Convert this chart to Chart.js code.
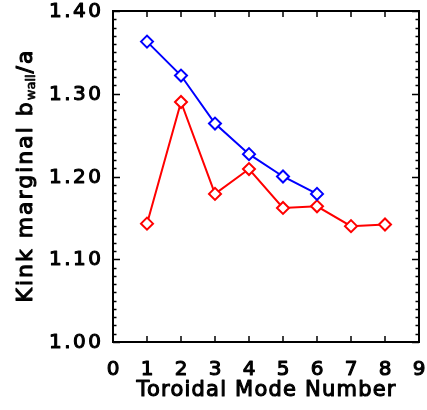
<!DOCTYPE html>
<html><head><meta charset="utf-8">
<script src="https://cdn.jsdelivr.net/npm/chart.js@4/dist/chart.umd.min.js"></script>
<style>html,body{margin:0;padding:0;background:#fff;}</style>
</head><body>
<canvas id="c" width="427" height="410" style="display:block"></canvas>
<script>
const modeNumbers = [1, 2, 3, 4, 5, 6, 7, 8];
const blueValues = [1.363, 1.322, 1.264, 1.227, 1.200, 1.179];
const redValues = [1.143, 1.290, 1.179, 1.209, 1.162, 1.164, 1.140, 1.142];
const xTickLabels = ['0', '1', '2', '3', '4', '5', '6', '7', '8', '9'];
const yTickLabels = ['1.00', '1.10', '1.20', '1.30', '1.40'];
const xTitle = 'Toroidal Mode Number';
const yTitleMain = 'Kink marginal b';
const yTitleSub = 'wall';
const yTitleEnd = '/a';

const FONT = '"DejaVu Sans", sans-serif';
const STROKE = 1.1;

function pts(vals) { return vals.map((v, i) => ({ x: modeNumbers[i], y: v })); }

function fitText(ctx, text, target) {
  ctx.letterSpacing = '0px';
  const w = ctx.measureText(text).width;
  return Math.max(0, (target - w) / Math.max(1, text.length - 1));
}
function drawText(ctx, text, x, y) {
  ctx.fillText(text, x, y);
  ctx.strokeText(text, x, y);
}

const framePlugin = {
  id: 'frame',
  afterDraw(chart) {
    const ctx = chart.ctx, ca = chart.chartArea;
    const xs = chart.scales.x, ys = chart.scales.y;
    ctx.save();
    ctx.strokeStyle = '#000';
    ctx.fillStyle = '#000';
    ctx.lineWidth = 2;
    ctx.strokeRect(ca.left, ca.top, ca.right - ca.left, ca.bottom - ca.top);
    ctx.lineWidth = 1.5;
    const line = (x1, y1, x2, y2) => { ctx.beginPath(); ctx.moveTo(x1, y1); ctx.lineTo(x2, y2); ctx.stroke(); };
    xTickLabels.forEach(l => {
      const px = Math.round(xs.getPixelForValue(+l));
      line(px, ca.bottom, px, ca.bottom - 6);
      line(px, ca.top, px, ca.top + 6);
    });
    const yMin = +yTickLabels[0], yMax = +yTickLabels[yTickLabels.length - 1];
    const nMinor = Math.round((yMax - yMin) / 0.01);
    for (let i = 0; i <= nMinor; i++) {
      const py = Math.round(ys.getPixelForValue(yMin + i * 0.01)) + 0.5;
      const len = i % 10 === 0 ? 7 : 3.5;
      line(ca.left, py, ca.left + len, py);
      line(ca.right, py, ca.right - len, py);
    }
    ctx.lineWidth = STROKE;
    ctx.lineJoin = 'round';
    // y tick labels
    ctx.font = '20px ' + FONT;
    ctx.textBaseline = 'middle';
    ctx.textAlign = 'left';
    yTickLabels.forEach(l => {
      const py = ys.getPixelForValue(+l);
      const ls = fitText(ctx, l, 52);
      ctx.letterSpacing = ls + 'px';
      const w = ctx.measureText(l).width - ls;
      drawText(ctx, l, 101 - w, py + 1);
    });
    // x tick labels
    ctx.font = '20px ' + FONT;
    ctx.letterSpacing = '0px';
    ctx.textAlign = 'center';
    xTickLabels.forEach(l => {
      const px = xs.getPixelForValue(+l);
      drawText(ctx, l, px, 370);
    });
    // x title
    ctx.font = '21px ' + FONT;
    const ls = fitText(ctx, xTitle, 259);
    ctx.letterSpacing = ls + 'px';
    ctx.textAlign = 'left';
    const tw = ctx.measureText(xTitle).width - ls;
    drawText(ctx, xTitle, (ca.left + ca.right) / 2 - tw / 2, 391);
    // y title
    ctx.translate(26, (ca.top + ca.bottom) / 2);
    ctx.rotate(-Math.PI / 2);
    ctx.letterSpacing = '0px';
    ctx.textAlign = 'left';
    ctx.font = '22px ' + FONT;
    const wm0 = ctx.measureText(yTitleMain).width;
    const we0 = ctx.measureText(yTitleEnd).width;
    ctx.font = '13px ' + FONT;
    const wsub = ctx.measureText(yTitleSub).width;
    const nGaps = yTitleMain.length + yTitleEnd.length;
    const sp = Math.max(0, (254 - (wm0 + we0 + wsub + 1)) / nGaps);
    ctx.font = '22px ' + FONT;
    ctx.letterSpacing = sp + 'px';
    const wm = ctx.measureText(yTitleMain).width;
    const we = ctx.measureText(yTitleEnd).width - sp;
    const total = wm + wsub + 1 + we;
    let x = -total / 2;
    drawText(ctx, yTitleMain, x, 0);
    x += wm;
    ctx.letterSpacing = '0px';
    ctx.font = '13px ' + FONT;
    ctx.lineWidth = 0.7;
    drawText(ctx, yTitleSub, x, 6);
    ctx.lineWidth = STROKE;
    x += wsub + 1;
    ctx.font = '22px ' + FONT;
    ctx.letterSpacing = sp + 'px';
    drawText(ctx, yTitleEnd, x, 0);
    ctx.restore();
  }
};

new Chart(document.getElementById('c'), {
  type: 'line',
  data: {
    datasets: [
      { data: pts(blueValues), borderColor: '#0000ff', pointBorderColor: '#0000ff' },
      { data: pts(redValues), borderColor: '#ff0000', pointBorderColor: '#ff0000' }
    ]
  },
  options: {
    responsive: false,
    animation: false,
    devicePixelRatio: 1,
    layout: { padding: { left: 0, right: 3, top: 11, bottom: 0 } },
    elements: {
      line: { borderWidth: 2, tension: 0, fill: false },
      point: { pointStyle: 'rectRot', radius: 6, borderWidth: 2, backgroundColor: '#ffffff', hoverRadius: 6 }
    },
    plugins: { legend: { display: false }, tooltip: { enabled: false } },
    scales: {
      x: {
        type: 'linear', min: 0, max: 9,
        ticks: { display: false, stepSize: 1 },
        grid: { display: false }, border: { display: false },
        afterFit(s) { s.height = 68; }
      },
      y: {
        type: 'linear', min: 1.0, max: 1.4,
        ticks: { display: false, stepSize: 0.1 },
        grid: { display: false }, border: { display: false },
        afterFit(s) { s.width = 113; }
      }
    }
  },
  plugins: [framePlugin]
});
</script>
</body></html>
